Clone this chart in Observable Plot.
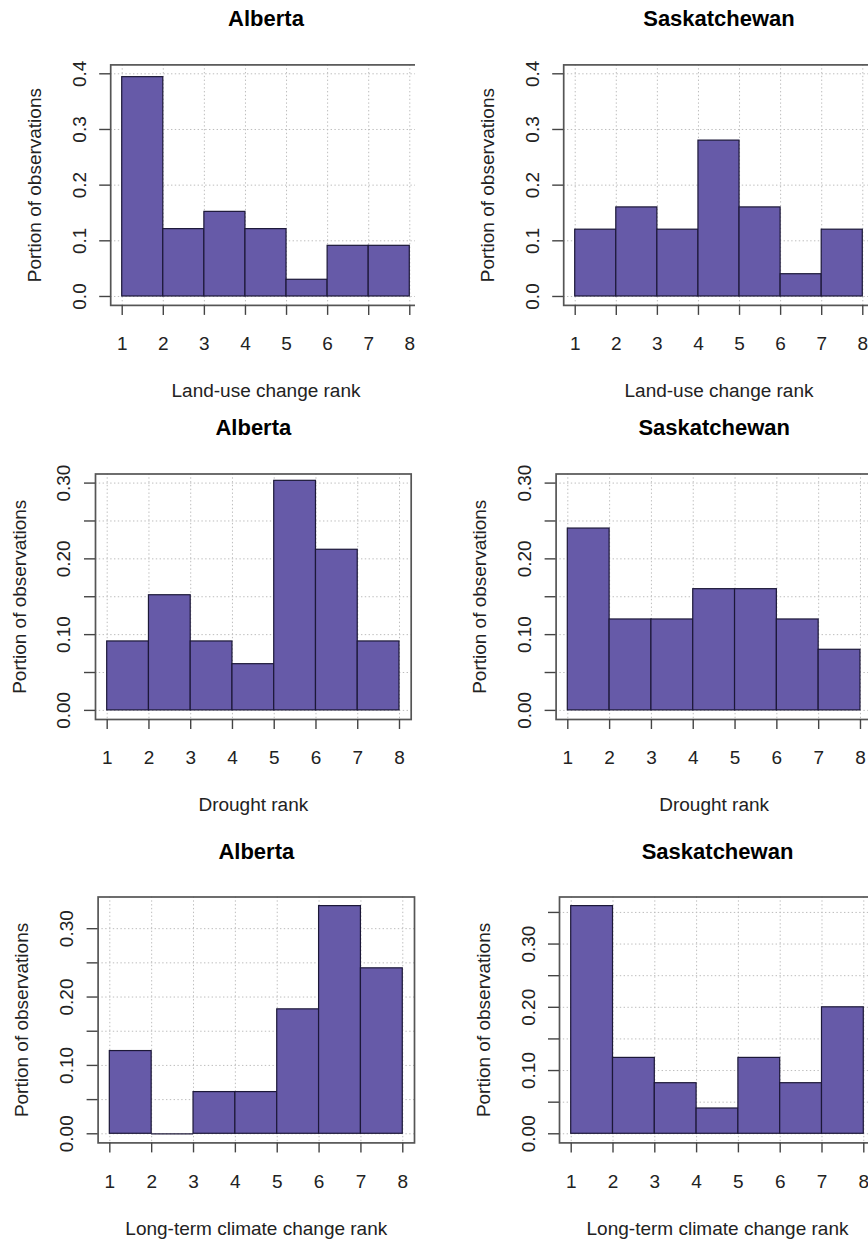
<!DOCTYPE html>
<html><head><meta charset="utf-8">
<script src="https://cdn.jsdelivr.net/npm/d3@7"></script>
<script src="https://cdn.jsdelivr.net/npm/@observablehq/plot@0.6"></script>
<style>
body{margin:0;background:#fff;}
#root{position:relative;width:868px;height:1239px;overflow:hidden;background:#fff;}
.panel{position:absolute;overflow:hidden;}
.panel svg{max-width:none;display:block;}
</style></head><body><div id="root"></div>
<script>
// ---- data ----
const bins = [1, 2, 3, 4, 5, 6, 7];              // left edge of each rank bin
const xTickValues = [1, 2, 3, 4, 5, 6, 7, 8];
const provinces = ["Alberta", "Saskatchewan"];
const xLabels = ["Land-use change rank", "Drought rank", "Long-term climate change rank"];
const yLabel = "Portion of observations";

const landUseAlberta = [0.394, 0.121, 0.152, 0.121, 0.030, 0.091, 0.091];
const landUseSask    = [0.12, 0.16, 0.12, 0.28, 0.16, 0.04, 0.12];
const droughtAlberta = [0.091, 0.152, 0.091, 0.061, 0.303, 0.212, 0.091];
const droughtSask    = [0.24, 0.12, 0.12, 0.16, 0.16, 0.12, 0.08];
const climateAlberta = [0.121, 0, 0.061, 0.061, 0.182, 0.333, 0.242];
const climateSask    = [0.36, 0.12, 0.08, 0.04, 0.12, 0.08, 0.20];

const yTicksRow1 = [0, 0.1, 0.2, 0.3, 0.4];
const yTickLabelsRow1 = ["0.0", "0.1", "0.2", "0.3", "0.4"];
const yTicksRow23 = [0, 0.05, 0.10, 0.15, 0.20, 0.25, 0.30, 0.35];
const yTickLabelValuesRow23 = [0, 0.10, 0.20, 0.30];
const yTickLabelsRow23 = ["0.00", "0.10", "0.20", "0.30"];

// ---- layout ----
const rows = [
  {top: 0, height: 410, boxT: 64.4, boxB: 304.9, ylim: 0.4, ticks: yTicksRow1, labVals: yTicksRow1, labs: yTickLabelsRow1},
  {top: 410, height: 420, boxT: 473.5, boxB: 719.0, ylim: 0.3, ticks: yTicksRow23, labVals: yTickLabelValuesRow23, labs: yTickLabelsRow23},
  {top: 830, height: 409, boxT: 896.5, boxB: 1142.4, ylim: null, ticks: yTicksRow23, labVals: yTickLabelValuesRow23, labs: yTickLabelsRow23}
];
const panels = [
  {row: 0, col: 0, values: landUseAlberta, boxL: 110.2, boxR: 420.8, clipW: 415},
  {row: 0, col: 1, values: landUseSask,    boxL: 563.2, boxR: 873.8, clipW: 434},
  {row: 1, col: 0, values: droughtAlberta, boxL: 95.0,  boxR: 410.7, clipW: 434},
  {row: 1, col: 1, values: droughtSask,    boxL: 555.6, boxR: 871.7, clipW: 434},
  {row: 2, col: 0, values: climateAlberta, boxL: 97.6,  boxR: 414.0, clipW: 434},
  {row: 2, col: 1, values: climateSask,    boxL: 559.0, boxR: 875.0, clipW: 434}
];

const FILL = "#665aa8", EDGE = "#1c1838", FRAME = "#555", TICK = "#444", GRID = "#bdbdbd";
const FONT = "'Liberation Sans', Arial, Helvetica, sans-serif";
const root = document.getElementById("root");

for (const p of panels) {
  const r = rows[p.row];
  const divLeft = p.col === 0 ? 0 : 434;
  const m = r.ylim ?? d3.max(p.values);
  const yDomain = [-0.04 * m, 1.04 * m];
  const ticks = r.ticks.filter(t => t >= yDomain[0] && t <= yDomain[1]);
  const labIdx = r.labVals.map((v, i) => i).filter(i => r.labVals[i] <= yDomain[1]);
  const data = bins.map((b, i) => ({x1: b, x2: b + 1, value: p.values[i]}));
  const svgW = p.boxR - divLeft + 6;

  const chart = Plot.plot({
    width: svgW,
    height: r.height,
    marginLeft: p.boxL - divLeft,
    marginRight: svgW - (p.boxR - divLeft),
    marginTop: r.boxT - r.top,
    marginBottom: r.top + r.height - r.boxB,
    style: {fontFamily: FONT, fontSize: "19px", color: "#222", background: "transparent", maxWidth: "none"},
    x: {domain: [0.72, 8.28]},
    y: {domain: yDomain},
    marks: [
      Plot.ruleX(xTickValues, {stroke: GRID, strokeWidth: 1, strokeDasharray: "1.4,2.4"}),
      Plot.ruleY(ticks, {stroke: GRID, strokeWidth: 1, strokeDasharray: "1.4,2.4"}),
      Plot.rectY(data, {x1: "x1", x2: "x2", y: "value", fill: FILL, stroke: EDGE, strokeWidth: 1.2}),
      Plot.ruleY(data.filter(d => d.value === 0), {x1: "x1", x2: "x2", y: 0, stroke: EDGE, strokeWidth: 1.2}),
      Plot.frame({stroke: FRAME, strokeWidth: 1.7}),
      Plot.axisX(xTickValues, {tickSize: 10, tickPadding: 21.5, stroke: TICK, strokeWidth: 1.4, label: null, tickFormat: d => String(d)}),
      Plot.axisY(ticks, {tickSize: 11, stroke: TICK, strokeWidth: 1.4, label: null, tickFormat: () => ""}),
      Plot.text(labIdx, {frameAnchor: "left", y: i => r.labVals[i], text: i => r.labs[i], rotate: -90,
        textAnchor: "middle", lineAnchor: "bottom", dx: -25, fill: "#222"}),
      Plot.text([yLabel], {frameAnchor: "left", text: d => d, rotate: -90, textAnchor: "middle",
        lineAnchor: "bottom", dx: -70, fill: "#222"}),
      Plot.text([xLabels[p.row]], {frameAnchor: "bottom", text: d => d, textAnchor: "middle",
        lineAnchor: "bottom", dy: 92, fill: "#222"}),
      Plot.text([provinces[p.col]], {frameAnchor: "top", text: d => d, textAnchor: "middle",
        lineAnchor: "bottom", dy: -38.5, fontWeight: "bold", fontSize: 22, fill: "#000"})
    ]
  });

  const div = document.createElement("div");
  div.className = "panel";
  div.style.left = divLeft + "px";
  div.style.top = r.top + "px";
  div.style.width = p.clipW + "px";
  div.style.height = r.height + "px";
  div.appendChild(chart);
  root.appendChild(div);
}
</script></body></html>
